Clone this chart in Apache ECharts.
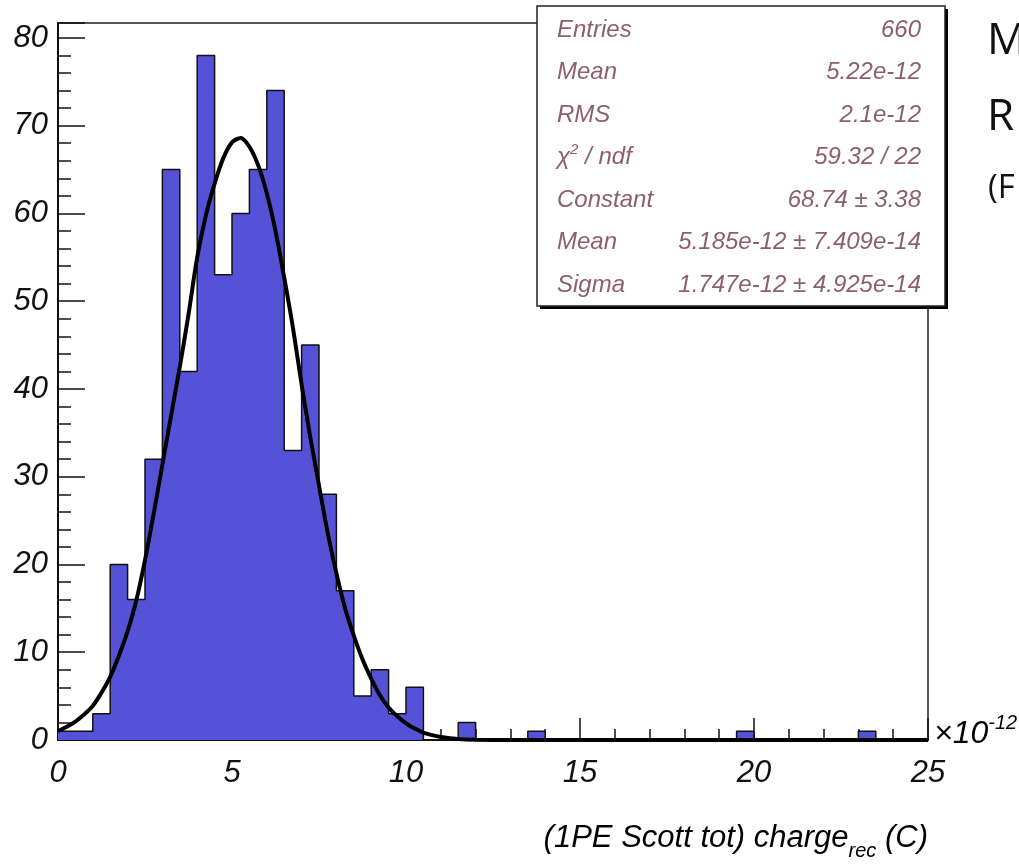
<!DOCTYPE html>
<html>
<head>
<meta charset="utf-8">
<script src="https://cdn.jsdelivr.net/npm/echarts@6/dist/echarts.min.js"></script>
<style>html,body{margin:0;padding:0;background:#fff}#main{width:1019px;height:866px}</style>
</head>
<body>
<div id="main"></div>
<script>
// histogram: 50 bins of width 0.5 (x 1e-12 C)
var binWidth = 0.5;
var counts = [1,1,3,20,16,32,65,42,78,53,
              60,65,74,33,45,28,17,5,8,3,
              6,0,0,2,0,0,0,1,0,0,
              0,0,0,0,0,0,0,0,0,1,
              0,0,0,0,0,0,1,0,0,0];

// gaus fit curve
var fitX = [0,0.25,0.5,0.75,1,1.25,1.5,1.75,2,2.25,2.5,2.75,3,3.25,3.5,3.75,4,4.25,4.5,4.75,5,5.25,5.5,5.75,
            6,6.25,6.5,6.75,7,7.25,7.5,7.75,8,8.25,8.5,8.75,9,9.25,9.5,9.75,10,10.25,10.5,10.75,11,11.5,12,13,25];
var fitY = [1.0,1.5,2.1,2.9,3.9,5.4,7.2,9.6,12.4,15.9,20.5,25.8,31.4,37,42.5,48.5,55,59.8,63.4,66.3,68.1,68.6,67.6,65.5,
            62.3,58,52.7,47,40.5,34.5,29,23.6,19,15,11.9,9.2,7,5.1,3.7,2.7,1.9,1.3,0.85,0.55,0.35,0.12,0.04,0,0];

var statNames = ['Entries','Mean','RMS','{a|χ}{s|2}{a| / ndf}','Constant','Mean','Sigma'];
var statValues = ['660','5.22e-12','2.1e-12','59.32 / 22','68.74 ± 3.38','5.185e-12 ± 7.409e-14','1.747e-12 ± 4.925e-14'];

var xTitle = '(1PE Scott tot) charge';
var xSub = 'rec';
var xUnit = ' (C)';

var chart = echarts.init(document.getElementById('main'), null, {renderer: 'canvas'});

var histData = counts.map(function (c, i) { return [i * binWidth, c]; });
histData.push([counts.length * binWidth, counts[counts.length - 1]]);
var fitData = fitX.map(function (x, i) { return [x, fitY[i]]; });

var labelFont = {fontFamily: 'Liberation Sans', fontStyle: 'italic', fontSize: 31, color: '#111'};
var statColor = '#8c5f6b';

var graphics = [
  // stats box shadow + box
  {type: 'rect', z: 99, shape: {x: 540, y: 9, width: 408, height: 300}, style: {fill: '#000'}},
  {
    type: 'rect', z: 100,
    shape: {x: 537, y: 6, width: 408, height: 300},
    style: {fill: '#fff', stroke: '#222', lineWidth: 1.5}
  },
  {
    type: 'text', z: 10, right: 91, top: 815,
    style: {
      text: '{a|' + xTitle + '}{s|' + xSub + '}{a|' + xUnit + '}',
      rich: {
        a: {fontFamily: 'Liberation Sans', fontStyle: 'italic', fontSize: 31, color: '#111', lineHeight: 44},
        s: {fontFamily: 'Liberation Sans', fontStyle: 'italic', fontSize: 20, color: '#111', lineHeight: 44, padding: [26, 0, 0, 0]}
      }
    }
  },
  {
    type: 'text', z: 10, left: 934, top: 706,
    style: {
      text: '{a|×10}{s|-12}',
      rich: {
        a: {fontFamily: 'Liberation Sans', fontStyle: 'italic', fontSize: 32, color: '#111', lineHeight: 40, padding: [12, 0, 0, 0]},
        s: {fontFamily: 'Liberation Sans', fontStyle: 'italic', fontSize: 20, color: '#111', lineHeight: 40, padding: [0, 0, 10, 0]}
      }
    }
  },
  {type: 'text', left: 987, top: 19, style: {text: 'M', fontFamily: 'Open Sans', fontSize: 44, fill: '#111'}},
  {type: 'text', left: 987, top: 95, style: {text: 'R', fontFamily: 'Open Sans', fontSize: 44, fill: '#111'}},
  {type: 'text', left: 988, top: 172, style: {text: '(F', fontFamily: 'Open Sans', fontSize: 33, fill: '#111'}}
];

statNames.forEach(function (n, i) {
  var cy = 30 + i * 42.5;
  graphics.push({
    type: 'text', z: 101, x: 557, y: cy,
    style: {
      text: n, fill: statColor, fontFamily: 'Liberation Sans', fontStyle: 'italic', fontSize: 24,
      verticalAlign: 'middle', align: 'left',
      rich: {
        a: {fontFamily: 'Liberation Sans', fontStyle: 'italic', fontSize: 24, color: statColor},
        s: {fontFamily: 'Liberation Sans', fontStyle: 'italic', fontSize: 15, color: statColor, padding: [0, 0, 16, 0]}
      }
    }
  });
  graphics.push({
    type: 'text', z: 101, x: 921, y: cy,
    style: {
      text: statValues[i], fill: statColor, fontFamily: 'Liberation Sans', fontStyle: 'italic', fontSize: 24,
      verticalAlign: 'middle', align: 'right'
    }
  });
});

var option = {
  backgroundColor: '#fff',
  animation: false,
  grid: {
    left: 58, right: 91, top: 23, bottom: 126,
    show: true, borderColor: '#222', borderWidth: 1.5,
    outerBoundsMode: 'none'
  },
  xAxis: {
    type: 'value', min: 0, max: 25, interval: 5,
    axisLine: {show: true, onZero: false, lineStyle: {color: '#111', width: 2}},
    axisTick: {show: true, inside: true, length: 22, lineStyle: {color: '#111', width: 1.5}},
    minorTick: {show: true, splitNumber: 5, length: 11, lineStyle: {color: '#111', width: 1.5}},
    splitLine: {show: false},
    axisLabel: Object.assign({margin: 18}, labelFont)
  },
  yAxis: [
    {
      type: 'value', min: 0, max: 81.7, interval: 2,
      axisLine: {show: true, lineStyle: {color: '#111', width: 2}},
      axisTick: {show: true, inside: true, length: 13, lineStyle: {color: '#111', width: 1.5}},
      axisLabel: {show: false},
      splitLine: {show: false}
    },
    {
      type: 'value', min: 0, max: 81.7, interval: 10, position: 'left', offset: 0,
      axisLine: {show: false},
      axisTick: {show: true, inside: true, length: 27, lineStyle: {color: '#111', width: 1.5}},
      axisLabel: Object.assign({
        margin: 10,
        formatter: function (v) { return v % 10 === 0 ? String(v) : ''; }
      }, labelFont),
      splitLine: {show: false}
    }
  ],
  series: [
    {
      type: 'line', step: 'end', data: histData, yAxisIndex: 0,
      showSymbol: false, symbol: 'none',
      lineStyle: {color: '#111', width: 1.5},
      areaStyle: {color: '#5652d8', opacity: 1},
      z: 2
    },
    {
      type: 'line', data: fitData, yAxisIndex: 0,
      smooth: 0.3,
      showSymbol: false, symbol: 'none',
      lineStyle: {color: '#000', width: 4},
      z: 3
    }
  ],
  graphic: graphics
};

chart.setOption(option);
</script>
</body>
</html>
